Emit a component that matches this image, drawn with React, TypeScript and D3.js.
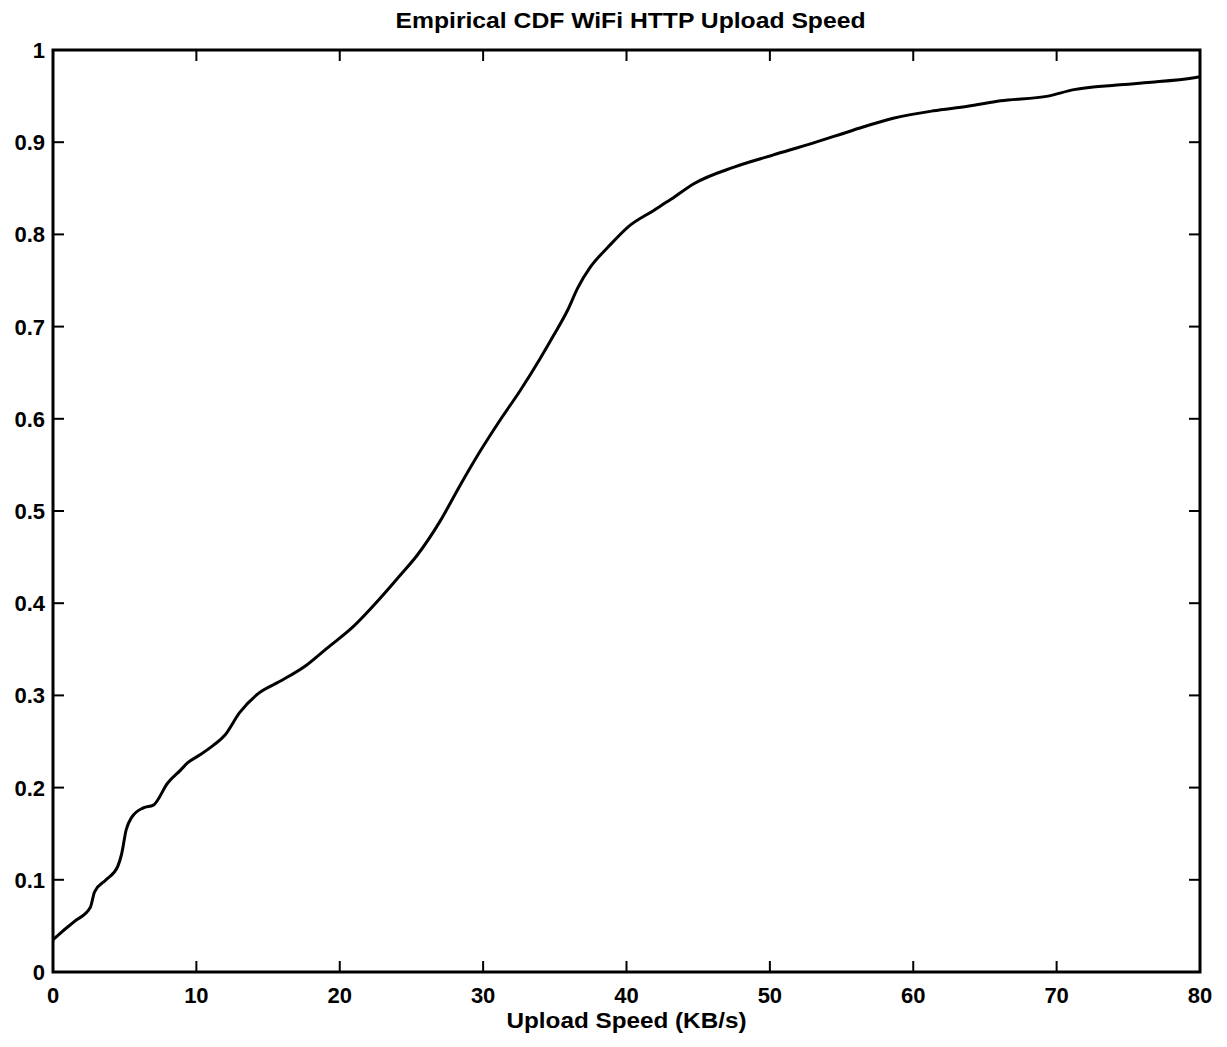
import React, { useEffect, useRef } from 'react';
import * as d3 from 'd3';

// upload speed (KB/s) and empirical CDF
const speeds = [0, 0.5, 1.5, 2.6, 2.9, 3.7, 4.5, 4.8, 5.1, 5.5, 6.3, 7.0, 8.0, 8.9, 9.4, 10.2, 11.2, 12.0, 13.0, 14.4, 15.8, 17.7, 19.1, 20.9, 22.8, 24.2, 25.4, 27.0, 28.4, 29.8, 31.2, 32.6, 34.0, 34.9, 35.9, 36.6, 37.5, 38.7, 40.1, 41.9, 43.1, 44.7, 47.5, 50.2, 53.0, 55.8, 58.6, 61.4, 63.8, 66.1, 69.4, 71.2, 74.2, 76.6, 79.6, 80];
const cdf = [0.035, 0.042, 0.055, 0.070, 0.087, 0.100, 0.114, 0.129, 0.154, 0.168, 0.178, 0.181, 0.205, 0.219, 0.227, 0.235, 0.246, 0.257, 0.281, 0.303, 0.315, 0.333, 0.351, 0.374, 0.405, 0.430, 0.452, 0.489, 0.528, 0.565, 0.599, 0.631, 0.666, 0.690, 0.718, 0.742, 0.765, 0.786, 0.808, 0.826, 0.838, 0.855, 0.873, 0.886, 0.899, 0.913, 0.926, 0.934, 0.939, 0.945, 0.950, 0.957, 0.962, 0.965, 0.970, 0.971];

const xTicks = [0, 10, 20, 30, 40, 50, 60, 70, 80];
const yTicks = [0, 0.1, 0.2, 0.3, 0.4, 0.5, 0.6, 0.7, 0.8, 0.9, 1];

const title = 'Empirical CDF WiFi HTTP Upload Speed';
const xLabel = 'Upload Speed (KB/s)';

const App = () => {
    const svgRef = useRef<SVGSVGElement>(null);

    useEffect(() => {
        const width = 1227,
              height = 1047,
              margin = { top: 50, right: 27, bottom: 75, left: 53 },
              font = '"Liberation Sans", Arial, sans-serif',
              tickLen = 11;

        const svg = d3.select(svgRef.current);
        svg.selectAll('*').remove();
        svg.attr('width', width).attr('height', height);

        const x = d3.scaleLinear().domain([0, 80]).range([margin.left, width - margin.right]);
        const y = d3.scaleLinear().domain([0, 1]).range([height - margin.bottom, margin.top]);

        const [x0, x1] = x.range();
        const [y0, y1] = y.range();

        // ticks on all four sides, pointing inwards
        const ticksGroup = svg.append('g').attr('stroke', '#000').attr('stroke-width', 2);
        xTicks.forEach(t => {
            ticksGroup.append('line').attr('x1', x(t)).attr('x2', x(t)).attr('y1', y0).attr('y2', y0 - tickLen);
            ticksGroup.append('line').attr('x1', x(t)).attr('x2', x(t)).attr('y1', y1).attr('y2', y1 + tickLen);
        });
        yTicks.forEach(t => {
            ticksGroup.append('line').attr('x1', x0).attr('x2', x0 + tickLen).attr('y1', y(t)).attr('y2', y(t));
            ticksGroup.append('line').attr('x1', x1).attr('x2', x1 - tickLen).attr('y1', y(t)).attr('y2', y(t));
        });

        // the CDF curve
        const line = d3.line<number>()
            .x((d, i) => x(speeds[i]))
            .y(d => y(d))
            .curve(d3.curveMonotoneX);

        svg.append('path')
            .datum(cdf)
            .attr('d', line)
            .attr('fill', 'none')
            .attr('stroke', '#000')
            .attr('stroke-width', 3)
            .attr('stroke-linejoin', 'round');

        // axes box
        svg.append('rect')
            .attr('x', x0)
            .attr('y', y1)
            .attr('width', x1 - x0)
            .attr('height', y0 - y1)
            .attr('fill', 'none')
            .attr('stroke', '#000')
            .attr('stroke-width', 3);

        const labels = svg.append('g')
            .attr('font-family', font)
            .attr('font-weight', 'bold')
            .attr('font-size', 22)
            .attr('fill', '#000');

        xTicks.forEach(t => {
            labels.append('text')
                .attr('x', x(t))
                .attr('y', y0 + 31)
                .attr('text-anchor', 'middle')
                .text(t);
        });

        yTicks.forEach(t => {
            labels.append('text')
                .attr('x', x0 - 8)
                .attr('y', y(t) + 8)
                .attr('text-anchor', 'end')
                .text(t);
        });

        labels.append('text')
            .attr('x', (x0 + x1) / 2)
            .attr('y', y0 + 56)
            .attr('text-anchor', 'middle')
            .attr('textLength', 240)
            .attr('lengthAdjust', 'spacingAndGlyphs')
            .text(xLabel);

        labels.append('text')
            .attr('x', (x0 + x1) / 2 + 4)
            .attr('y', 28)
            .attr('text-anchor', 'middle')
            .attr('textLength', 470)
            .attr('lengthAdjust', 'spacingAndGlyphs')
            .text(title);
    }, []);

    return (
        <svg ref={svgRef} style={{ position: 'absolute', left: 0, top: 0, display: 'block' }}></svg>
    );
};

export default App;
